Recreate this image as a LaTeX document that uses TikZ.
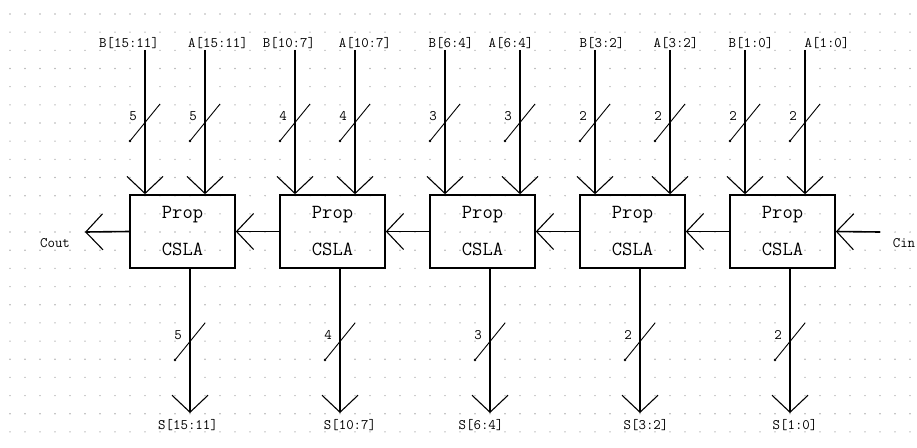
\documentclass[tikz,border=0pt]{standalone}
\usepackage{tikz}
\usetikzlibrary{arrows.meta,calc}
\def\buswidth#1(#2,#3)#4{\draw[slash] (#2-15,#3+19) -- (#2+15,#3-18); \fill (#2-15,#3+19) circle (1.3); \node[lbl] (#1) at (#2-12,#3-6) {#4};}
\tikzset{
	csla/.style={draw, line width=1.6pt, minimum width=105pt, minimum height=73pt, inner sep=0pt, align=center, font=\ttfamily\fontsize{20}{37}\selectfont},
	bus/.style={line width=1.6pt, -{Straight Barb[length=17pt,width=36pt,line width=1.1pt]}},
	slash/.style={line width=0.9pt},
	lbl/.style={inner sep=0pt, font=\ttfamily\fontsize{14.5}{16}\selectfont}
}

\begin{document}
\begin{tikzpicture}[x=1pt,y=-1pt]
			%%%%% START %%%%%
			\useasboundingbox (0,0) rectangle (917,447);
			
			% dot grid
			\foreach \i in {0,...,60}
				\foreach \j in {0,...,23}
					\fill[black!30] (10+15*\i, 14+18.17*\j) circle (0.8);
			
			% blocks
			\node[csla] (p1) at (182.5,231.5) {Prop\\CSLA};
			\node[csla] (p2) at (332.5,231.5) {Prop\\CSLA};
			\node[csla] (p3) at (482.5,231.5) {Prop\\CSLA};
			\node[csla] (p4) at (632.5,231.5) {Prop\\CSLA};
			\node[csla] (p5) at (782.5,231.5) {Prop\\CSLA};
			
			% input labels
			\node[lbl] (lb1) at (129,43) {B[15:11]};
			\node[lbl] (la1) at (218,43) {A[15:11]};
			\node[lbl] (lb2) at (289,43) {B[10:7]};
			\node[lbl] (la2) at (365,43) {A[10:7]};
			\node[lbl] (lb3) at (451,43) {B[6:4]};
			\node[lbl] (la3) at (511,43) {A[6:4]};
			\node[lbl] (lb4) at (602,43) {B[3:2]};
			\node[lbl] (la4) at (676,43) {A[3:2]};
			\node[lbl] (lb5) at (751,43) {B[1:0]};
			\node[lbl] (la5) at (827,43) {A[1:0]};
			
			\coordinate (b1) at (145,50);
			\coordinate (a1) at (205,50);
			\coordinate (b2) at (295,50);
			\coordinate (a2) at (355,50);
			\coordinate (b3) at (445,50);
			\coordinate (a3) at (520,50);
			\coordinate (b4) at (595,50);
			\coordinate (a4) at (670,50);
			\coordinate (b5) at (745,50);
			\coordinate (a5) at (805,50);
			
			\draw[bus] (b1) -- (b1 |- p1.north);
			\draw[bus] (a1) -- (a1 |- p1.north);
			\draw[bus] (b2) -- (b2 |- p2.north);
			\draw[bus] (a2) -- (a2 |- p2.north);
			\draw[bus] (b3) -- (b3 |- p3.north);
			\draw[bus] (a3) -- (a3 |- p3.north);
			\draw[bus] (b4) -- (b4 |- p4.north);
			\draw[bus] (a4) -- (a4 |- p4.north);
			\draw[bus] (b5) -- (b5 |- p5.north);
			\draw[bus] (a5) -- (a5 |- p5.north);
			
			\buswidth nb1(145,122){5}
			\buswidth na1(205,122){5}
			\buswidth nb2(295,122){4}
			\buswidth na2(355,122){4}
			\buswidth nb3(445,122){3}
			\buswidth na3(520,122){3}
			\buswidth nb4(595,122){2}
			\buswidth na4(670,122){2}
			\buswidth nb5(745,122){2}
			\buswidth na5(805,122){2}
			
			% carry chain
			\node[lbl] (cin) at (904,243) {Cin};
			\node[lbl] (cout) at (55,243) {Cout};
			\coordinate (ci) at (880,232);
			\coordinate (co) at (85,232);
			\draw[bus] (ci) -- (p5.east);
			\draw[bus] (p5.west) -- (p4.east);
			\draw[bus] (p4.west) -- (p3.east);
			\draw[bus] (p3.west) -- (p2.east);
			\draw[bus] (p2.west) -- (p1.east);
			\draw[bus] (p1.west) -- (co);
			
			% sum outputs
			\coordinate (s1) at (190,413);
			\coordinate (s2) at (340,413);
			\coordinate (s3) at (490,413);
			\coordinate (s4) at (640,413);
			\coordinate (s5) at (790,413);
			
			\draw[bus] (s1 |- p1.south) -- (s1);
			\draw[bus] (s2 |- p2.south) -- (s2);
			\draw[bus] (s3 |- p3.south) -- (s3);
			\draw[bus] (s4 |- p4.south) -- (s4);
			\draw[bus] (s5 |- p5.south) -- (s5);
			
			\buswidth ns1(190,341){5}
			\buswidth ns2(340,341){4}
			\buswidth ns3(490,341){3}
			\buswidth ns4(640,341){2}
			\buswidth ns5(790,341){2}
			
			\node[lbl] (ls1) at (188,425) {S[15:11]};
			\node[lbl] (ls2) at (350,425) {S[10:7]};
			\node[lbl] (ls3) at (481,425) {S[6:4]};
			\node[lbl] (ls4) at (646,425) {S[3:2]};
			\node[lbl] (ls5) at (795,425) {S[1:0]};
			
			%%%%% END %%%%%
\end{tikzpicture}
\end{document}
